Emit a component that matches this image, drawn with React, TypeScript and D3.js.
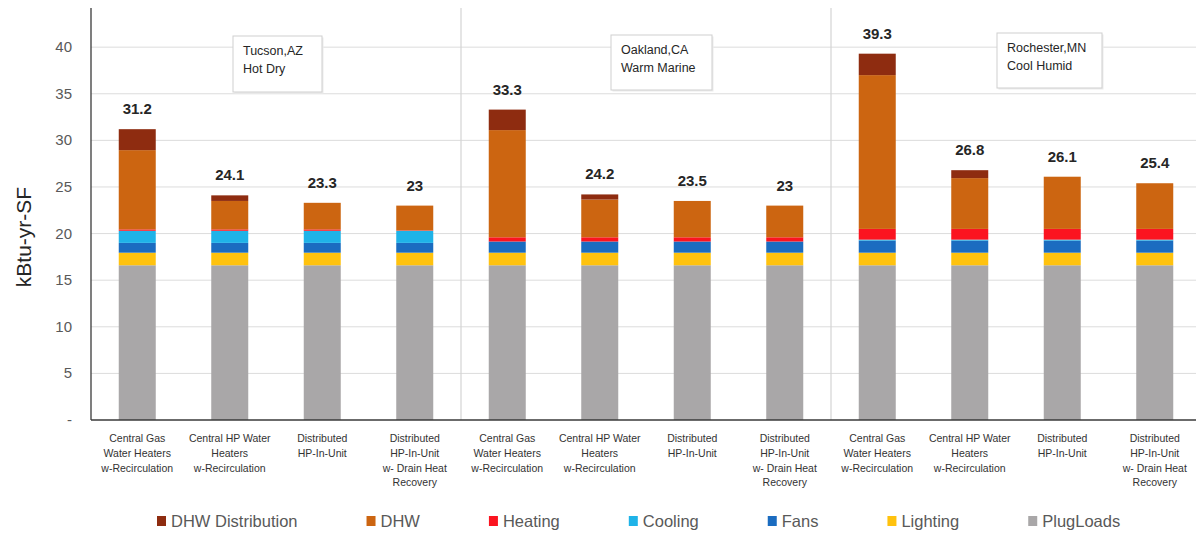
import React from "react";
import * as d3 from "d3";

// Annual site energy use intensity by end use, three climate zones x four DHW system types
const climates = ["Tucson,AZ|Hot Dry", "Oakland,CA|Warm Marine", "Rochester,MN|Cool Humid"];

const systemLabels: string[][] = [
  ["Central Gas", "Water Heaters", "w-Recirculation"],
  ["Central HP Water", "Heaters", "w-Recirculation"],
  ["Distributed", "HP-In-Unit"],
  ["Distributed", "HP-In-Unit", "w- Drain Heat", "Recovery"],
];

const categories: string[] = climates.flatMap((c) => systemLabels.map((s) => `${c} / ${s.join(" ")}`));

const plugLoads = [16.6, 16.6, 16.6, 16.6, 16.6, 16.6, 16.6, 16.6, 16.6, 16.6, 16.6, 16.6];
const lighting = [1.35, 1.35, 1.35, 1.35, 1.35, 1.35, 1.35, 1.35, 1.35, 1.35, 1.35, 1.35];
const fans = [1.05, 1.05, 1.05, 1.05, 1.2, 1.2, 1.2, 1.2, 1.3, 1.3, 1.3, 1.3];
const cooling = [1.3, 1.3, 1.3, 1.3, 0, 0, 0, 0, 0.1, 0.1, 0.1, 0.1];
const heating = [0.15, 0.15, 0.15, 0.05, 0.45, 0.45, 0.45, 0.45, 1.15, 1.15, 1.15, 1.15];
const dhw = [8.5, 3.05, 2.85, 2.65, 11.5, 4.05, 3.9, 3.4, 16.5, 5.45, 5.6, 4.9];
const dhwDistribution = [2.25, 0.6, 0, 0, 2.2, 0.55, 0, 0, 2.3, 0.85, 0, 0];

const yTicks = [0, 5, 10, 15, 20, 25, 30, 35, 40];

// stacking order, bottom to top
const seriesKeys = ["PlugLoads", "Lighting", "Fans", "Cooling", "Heating", "DHW", "DHW Distribution"];
const seriesValues: Record<string, number[]> = {
  PlugLoads: plugLoads,
  Lighting: lighting,
  Fans: fans,
  Cooling: cooling,
  Heating: heating,
  DHW: dhw,
  "DHW Distribution": dhwDistribution,
};
const legendOrder = ["DHW Distribution", "DHW", "Heating", "Cooling", "Fans", "Lighting", "PlugLoads"];

const colors: Record<string, string> = {
  "DHW Distribution": "#8e2c10",
  DHW: "#cc6511",
  Heating: "#fb1420",
  Cooling: "#1fb3e8",
  Fans: "#1b6cc0",
  Lighting: "#ffc20e",
  PlugLoads: "#a9a7a8",
};

const W = 1196;
const H = 534;
const FONT = "'Liberation Sans', Arial, Helvetica, sans-serif";

const plot = { left: 91, right: 1201, top: 8, bottom: 420 };

// note boxes inside each climate group (offset from group start)
const noteBoxes = [
  { dx: 142, y: 36, w: 89, h: 56 },
  { dx: 150, y: 35, w: 101, h: 55 },
  { dx: 166, y: 33, w: 105, h: 55 },
];

function measure(text: string, font: string): number {
  const ctx = document.createElement("canvas").getContext("2d");
  if (!ctx) return text.length * 8;
  ctx.font = font;
  return ctx.measureText(text).width;
}

export default function App() {
  const rows = categories.map((cat, i) => {
    const r: Record<string, number | string> = { cat };
    seriesKeys.forEach((k) => (r[k] = seriesValues[k][i]));
    return r;
  });
  const stacked = d3.stack<Record<string, number | string>>().keys(seriesKeys)(rows as any);

  const x = d3.scaleBand<string>().domain(categories).range([plot.left, plot.right]).paddingInner(0.6).paddingOuter(0.3);
  const y = d3.scaleLinear().domain([0, 44.2]).range([plot.bottom, plot.top]);
  const step = x.step();
  const groupStart = (g: number) => (x(categories[g * 4]) as number) - (step - x.bandwidth()) / 2;

  const totals = categories.map((_, i) => seriesKeys.reduce((s, k) => s + seriesValues[k][i], 0));
  const fmt = (v: number) => String(+v.toFixed(1));

  // legend layout: marker, gap, label, spacing
  const legendSize = 16.5;
  const legendFont = `${legendSize}px ${FONT}`;
  let lx = 157;
  const legendItems = legendOrder.map((k) => {
    const item = { k, x: lx };
    lx += 9 + 6 + measure(k, legendFont) + 68;
    return item;
  });

  return (
    <svg width={W} height={H} style={{ position: "absolute", left: 0, top: 0, background: "#fff" }} fontFamily={FONT}>
      <rect x={0} y={0} width={W} height={H} fill="#fff" />
      {/* horizontal gridlines */}
      {yTicks.filter((t) => t > 0).map((t) => (
        <line key={t} x1={plot.left} x2={W} y1={y(t)} y2={y(t)} stroke="#dcdcdc" strokeWidth={1} />
      ))}
      {/* climate group separators */}
      {[1, 2].map((g) => {
        const xs = groupStart(g);
        return <line key={g} x1={xs} x2={xs} y1={plot.top} y2={plot.bottom} stroke="#d4d4d4" strokeWidth={1.2} />;
      })}
      {/* stacked bars */}
      {stacked.map((s) => (
        <g key={s.key} fill={colors[s.key]}>
          {s.map((d, i) => {
            const h = y(d[0]) - y(d[1]);
            if (h <= 0) return null;
            return <rect key={i} x={x(categories[i])} y={y(d[1])} width={x.bandwidth()} height={h} />;
          })}
        </g>
      ))}
      {/* total labels */}
      {totals.map((t, i) => (
        <text key={i} x={(x(categories[i]) as number) + x.bandwidth() / 2} y={y(t) - 15} textAnchor="middle" fontSize={15} fontWeight="bold" fill="#262626">
          {fmt(t)}
        </text>
      ))}
      {/* axes */}
      <line x1={plot.left} x2={plot.left} y1={plot.top} y2={plot.bottom} stroke="#3a3a3a" strokeWidth={1.3} />
      <line x1={plot.left} x2={W} y1={plot.bottom} y2={plot.bottom} stroke="#3a3a3a" strokeWidth={1.5} />
      {yTicks.map((t) => (
        <text key={t} x={72} y={y(t) + 5} textAnchor="end" fontSize={15} fill="#595959">
          {t === 0 ? "-" : t}
        </text>
      ))}
      <text transform={`translate(31,237) rotate(-90)`} textAnchor="middle" fontSize={21} fill="#262626">
        kBtu-yr-SF
      </text>
      {/* category labels */}
      {categories.map((c, i) => {
        const lines = systemLabels[i % 4];
        const cx = (x(c) as number) + x.bandwidth() / 2;
        return (
          <text key={c} x={cx} y={442} textAnchor="middle" fontSize={10.5} fill="#333">
            {lines.map((l, j) => (
              <tspan key={j} x={cx} y={442 + j * 14.8}>
                {l}
              </tspan>
            ))}
          </text>
        );
      })}
      {/* climate note boxes */}
      {climates.map((c, g) => {
        const b = noteBoxes[g];
        const bx = groupStart(g) + b.dx;
        const [l1, l2] = c.split("|");
        return (
          <g key={c}>
            <rect x={bx + 1.5} y={b.y + 1.5} width={b.w} height={b.h} fill="#ececec" />
            <rect x={bx} y={b.y} width={b.w} height={b.h} fill="#fff" stroke="#cfcfcf" strokeWidth={1} />
            <text x={bx + 10} y={b.y + 19} fontSize={12.5} fill="#262626">{l1}</text>
            <text x={bx + 10} y={b.y + 37} fontSize={12.5} fill="#262626">{l2}</text>
          </g>
        );
      })}
      {/* legend */}
      {legendItems.map((it) => (
        <g key={it.k}>
          <rect x={it.x} y={516} width={9} height={10} fill={colors[it.k]} />
          <text x={it.x + 14} y={527} fontSize={legendSize} fill="#595959">
            {it.k}
          </text>
        </g>
      ))}
    </svg>
  );
}
